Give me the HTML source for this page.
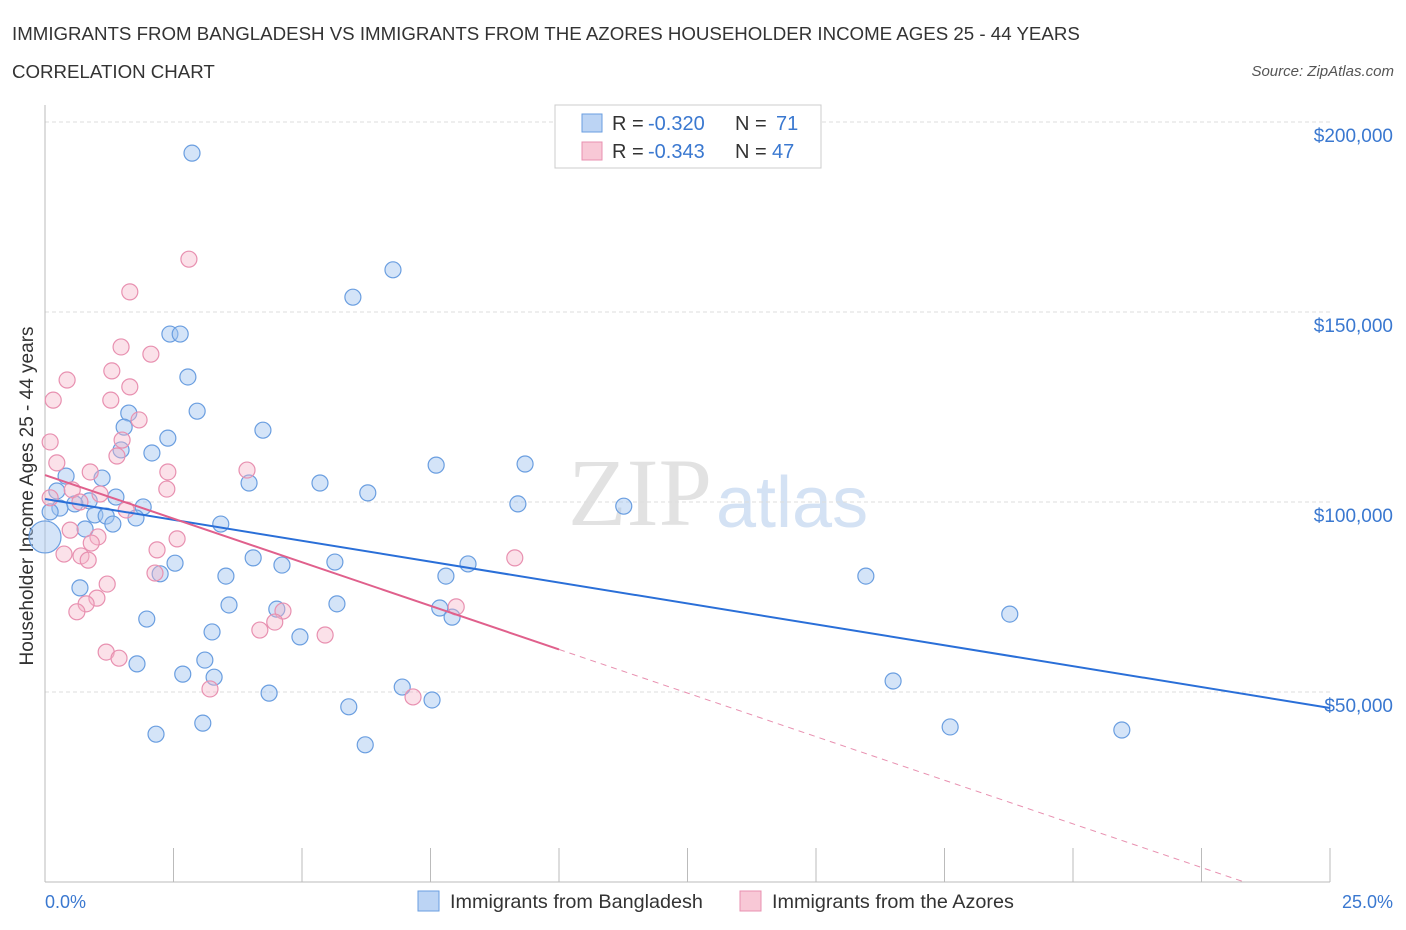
<!DOCTYPE html>
<html><head><meta charset="utf-8"><style>
body{margin:0;background:#fff;font-family:"Liberation Sans",sans-serif;}
svg{display:block}
</style></head><body>
<svg id="c" width="1406" height="930">
<text x="12" y="40" font-size="18.7" fill="#333">IMMIGRANTS FROM BANGLADESH VS IMMIGRANTS FROM THE AZORES HOUSEHOLDER INCOME AGES 25 - 44 YEARS</text>
<text x="12" y="78" font-size="18.7" fill="#333">CORRELATION CHART</text>
<text x="1394" y="76" font-size="15" fill="#555" font-style="italic" text-anchor="end">Source: ZipAtlas.com</text>
<text x="712" y="525" font-size="96" fill="#e2e2e2" text-anchor="end" font-family="Liberation Serif,serif">ZIP</text>
<text x="716" y="527" font-size="72" fill="#d4e2f4">atlas</text>
<g id="grid"></g>
<line x1="45" y1="105" x2="45" y2="882" stroke="#bbb"/>
<line x1="45" y1="882" x2="1330" y2="882" stroke="#bbb"/>
<text x="30" y="493" font-size="19" fill="#333" text-anchor="middle" transform="rotate(-90 33 493)">Householder Income Ages 25 - 44 years</text>
<text x="45" y="908" font-size="18" fill="#3a78d0">0.0%</text>
<text x="1393" y="908" font-size="18" fill="#3a78d0" text-anchor="end">25.0%</text>
<g id="pts"></g>
<g id="trend"></g>
<g>
<rect x="555" y="105" width="266" height="63" fill="#fff" stroke="#ccc"/>
<rect x="582" y="114" width="20" height="18" fill="#bcd4f4" stroke="#6a9ee0"/>
<text x="612" y="130" font-size="20" fill="#333">R =</text><text x="648" y="130" font-size="20" fill="#3a78d0">-0.320</text>
<text x="735" y="130" font-size="20" fill="#333">N =</text><text x="776" y="130" font-size="20" fill="#3a78d0">71</text>
<rect x="582" y="142" width="20" height="18" fill="#f8c8d6" stroke="#e890b0"/>
<text x="612" y="158" font-size="20" fill="#333">R =</text><text x="648" y="158" font-size="20" fill="#3a78d0">-0.343</text>
<text x="735" y="158" font-size="20" fill="#333">N =</text><text x="772" y="158" font-size="20" fill="#3a78d0">47</text>
</g>
<g><rect x="418" y="891" width="21" height="20" fill="#bcd4f4" stroke="#6a9ee0"/><text x="450" y="908" font-size="19.8" fill="#333">Immigrants from Bangladesh</text></g>
<g><rect x="740" y="891" width="21" height="20" fill="#f8c8d6" stroke="#e890b0"/><text x="772" y="908" font-size="19.8" fill="#333">Immigrants from the Azores</text></g>
</svg>
<script>
const yTicks=[50000,100000,150000,200000];
const yTickLabels=["$50,000","$100,000","$150,000","$200,000"];
const blueX=[2.86,6.77,5.99,2.43,2.63,2.78,2.96,1.63,1.54,4.24,2.39,1.48,2.08,7.61,9.34,0.41,1.11,3.97,5.35,6.28,0.23,1.38,0.86,0.58,9.2,11.26,1.91,0.29,0.1,0.97,1.19,1.77,1.32,3.42,0.78,0,4.05,5.64,4.61,8.23,2.53,2.24,3.52,7.8,15.97,0.68,3.58,5.68,4.51,7.68,7.92,18.77,1.98,3.25,4.96,3.11,1.79,2.68,3.29,16.5,6.95,4.36,7.53,5.91,3.07,17.61,20.95,2.16,6.23];
const blueY=[191.8,161.1,153.9,144.2,144.2,132.9,123.9,123.4,119.7,118.9,116.8,113.7,112.9,109.7,110,106.8,106.3,105,105,102.4,102.9,101.3,100.3,99.5,99.5,98.9,98.7,98.4,97.4,96.6,96.3,95.8,94.2,94.2,92.9,90.8,85.3,84.2,83.4,83.7,83.9,81.1,80.5,80.5,80.5,77.4,72.9,73.2,71.8,72.1,69.7,70.5,69.2,65.8,64.5,58.4,57.4,54.7,53.9,52.9,51.3,49.7,47.9,46.1,41.8,40.8,40,38.9,36.1];
const pinkX=[2.8,1.65,1.48,2.06,1.3,0.43,1.65,0.16,1.28,1.83,1.5,0.1,1.4,0.23,2.39,0.88,3.93,2.37,0.53,1.07,0.1,0.68,1.58,0.49,1.03,2.57,0.9,2.18,0.37,0.7,0.84,9.14,2.14,1.21,1.01,0.8,8.0,4.63,0.62,4.47,4.18,5.45,1.19,1.44,3.21,7.16];
const pinkY=[163.9,155.3,140.8,138.9,134.5,132.1,130.3,126.8,126.8,121.6,116.3,115.8,112.1,110.3,107.9,107.9,108.4,103.4,103.2,102.1,101.1,100,97.9,92.6,90.8,90.3,89.2,87.4,86.3,85.8,84.7,85.3,81.3,78.4,74.7,73.2,72.4,71.3,71.1,68.4,66.3,65,60.5,58.9,50.8,48.7];
const blueTrend=[100.8,45.8];   // value (k$) at x=0 and x=25
const pinkTrend=[107.1,-4.59];  // intercept (k$), slope per %
const NS="http://www.w3.org/2000/svg";
const xs=v=>45+v*51.4;
const ys=v=>882-v*(190/50000);
function mk(t,a,p){const e=document.createElementNS(NS,t);for(const k in a)e.setAttribute(k,a[k]);p.appendChild(e);return e;}
const grid=document.getElementById('grid');
yTicks.forEach((t,i)=>{
 const l=mk('line',{x1:45,x2:1330,y1:ys(t),y2:ys(t),stroke:'#ddd','stroke-dasharray':'4,3'},grid);
 
 
 const tx=mk('text',{x:1393,y:ys(t)+20,'font-size':19,fill:'#3a78d0','text-anchor':'end'},grid);
 tx.textContent=yTickLabels[i];
 
 
});
for(let i=0;i<=10;i++){
 const l=mk('line',{x1:xs(i*2.5),x2:xs(i*2.5),y1:848,y2:882,stroke:'#bbb'},grid);
 
 
}
const pts=document.getElementById('pts');
blueX.forEach((x,i)=>{
 const c=mk('circle',{cx:xs(x),cy:ys(blueY[i]*1000),r:i==35?16:8,fill:'rgba(160,196,240,0.45)',stroke:'#6a9ee0','stroke-width':1.2},pts);
 
 
});
pinkX.forEach((x,i)=>{
 const c=mk('circle',{cx:xs(x),cy:ys(pinkY[i]*1000),r:8,fill:'rgba(245,180,200,0.4)',stroke:'#e890b0','stroke-width':1.2},pts);
 
 
});
const tr=document.getElementById('trend');
const b=mk('line',{x1:xs(0),y1:ys(blueTrend[0]*1000),x2:xs(25),y2:ys(blueTrend[1]*1000),stroke:'#2a6fd8','stroke-width':2},tr);


const pv=x=>(pinkTrend[0]+pinkTrend[1]*x)*1000;
const p1=mk('line',{x1:xs(0),y1:ys(pv(0)),x2:xs(10),y2:ys(pv(10)),stroke:'#e0608c','stroke-width':2},tr);


const xe=-pinkTrend[0]/pinkTrend[1];
const p2=mk('line',{x1:xs(10),y1:ys(pv(10)),x2:xs(xe),y2:ys(0),stroke:'#e890b0','stroke-width':1,'stroke-dasharray':'6,5'},tr);


</script>
</body></html>
